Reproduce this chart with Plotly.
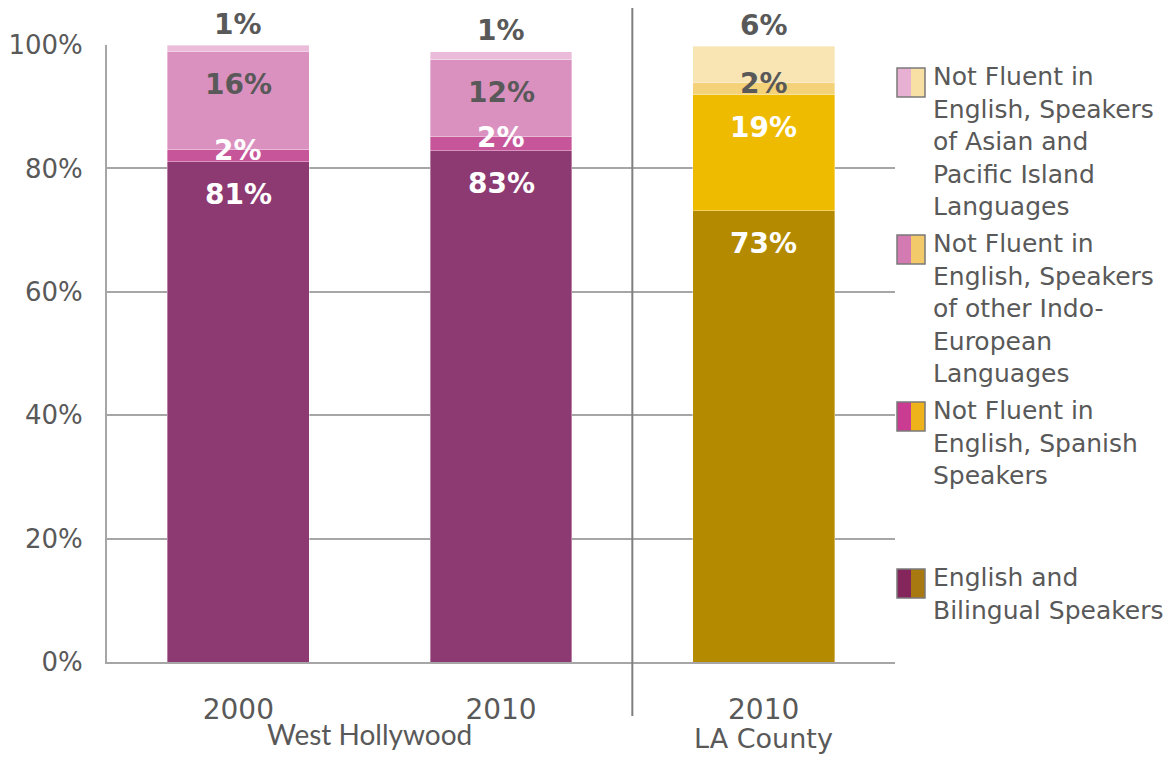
import plotly.graph_objects as go

# ---------------- data ----------------
years = ["2000", "2010", "2010"]
places = ["West Hollywood", "West Hollywood", "LA County"]
english_bilingual = [81.1, 82.9, 73.1]
spanish_not_fluent = [1.9, 2.3, 18.9]
indo_european_not_fluent = [16.0, 12.4, 2.0]
asian_pacific_not_fluent = [1.0, 1.3, 5.8]
y_ticks = [0, 20, 40, 60, 80, 100]

series_values = [english_bilingual, spanish_not_fluent,
                 indo_european_not_fluent, asian_pacific_not_fluent]
series_names = ["English and Bilingual Speakers",
                "Not Fluent in English, Spanish Speakers",
                "Not Fluent in English, Speakers of other Indo-European Languages",
                "Not Fluent in English, Speakers of Asian and Pacific Island Languages"]
legend_lines = [
    ["English and", "Bilingual Speakers"],
    ["Not Fluent in", "English, Spanish", "Speakers"],
    ["Not Fluent in", "English, Speakers", "of other Indo-", "European", "Languages"],
    ["Not Fluent in", "English, Speakers", "of Asian and", "Pacific Island", "Languages"],
]

# ---------------- style ----------------
WH_COLORS = ["#8E3A72", "#C6559A", "#DB91BF", "#EBBCD9"]
LA_COLORS = ["#B38A00", "#EEBB00", "#F3D27A", "#F8E5B3"]
SW_LEFT = ["#84265C", "#C93C92", "#D47AB3", "#E8B1D3"]
SW_RIGHT = ["#A77910", "#EEB31B", "#F2CA69", "#F8DFA3"]
GRAY_TXT = "#595959"
GRID = "#A6A6A6"
FONT = "DejaVu Sans"

BODY = 8                      # default page margin around the figure
W, H = 1167, 754
ML, MR, MT, MB = 99, 280, 37, 100
PW, PH = W - ML - MR, H - MT - MB


def px_x(px):                 # screen px -> paper x
    return (px - BODY - ML) / PW


def px_y(py):                 # screen px -> paper y
    return (BODY + H - MB - py) / PH


xpos = list(range(len(years)))

fig = go.Figure()
for i, (vals, name) in enumerate(zip(series_values, series_names)):
    colors = [WH_COLORS[i] if p == "West Hollywood" else LA_COLORS[i] for p in places]
    fig.add_trace(go.Bar(
        x=xpos, y=vals, name=name,
        marker=dict(color=colors, line=dict(width=0.8, color="rgba(255,255,255,0.45)")),
        showlegend=False, hoverinfo="skip"))

annotations = []
# segment labels
n_series = len(series_values)
for j in range(len(years)):
    cum = 0
    for i in range(n_series):
        v = series_values[i][j]
        cum += v
        if i == n_series - 1:
            shift = 21
        elif v >= 5:
            shift = -33
        else:
            shift = -1
        color = "white" if i < 2 else GRAY_TXT
        annotations.append(dict(
            x=xpos[j], y=cum, xref="x", yref="y", text=f"<b>{round(v)}%</b>",
            showarrow=False, yanchor="middle", yshift=shift, borderpad=0,
            font=dict(family=FONT, size=28, color=color)))

# group labels
groups = []
for p in places:
    if p not in groups:
        groups.append(p)
for g in groups:
    idx = [xpos[k] for k, p in enumerate(places) if p == g]
    if g == "West Hollywood":
        f = dict(family="Lato", size=28, color=GRAY_TXT)
        yc = 734
    else:
        f = dict(family=FONT, size=27, color=GRAY_TXT)
        yc = 738
    annotations.append(dict(
        x=sum(idx) / len(idx), y=px_y(yc), xref="x", yref="paper", text=g,
        showarrow=False, yanchor="middle", xanchor="center", font=f))

# legend (top to bottom: reversed series order)
shapes = []
first_center = 77
item_step = 167
for k, i in enumerate(reversed(range(n_series))):
    cy = first_center + k * item_step
    annotations.append(dict(
        x=px_x(931), y=px_y(cy - 17), xref="paper", yref="paper",
        text="<br>".join(legend_lines[i]), showarrow=False,
        xanchor="left", yanchor="top", align="left",
        font=dict(family=FONT, size=25, color=GRAY_TXT)))
    y0, y1 = px_y(cy + 20), px_y(cy - 9)
    shapes.append(dict(type="rect", xref="paper", yref="paper",
                       x0=px_x(897), x1=px_x(911), y0=y0, y1=y1,
                       fillcolor=SW_LEFT[i], line=dict(width=0)))
    shapes.append(dict(type="rect", xref="paper", yref="paper",
                       x0=px_x(911), x1=px_x(925), y0=y0, y1=y1,
                       fillcolor=SW_RIGHT[i], line=dict(width=0)))
    shapes.append(dict(type="rect", xref="paper", yref="paper",
                       x0=px_x(897), x1=px_x(925), y0=y0, y1=y1,
                       fillcolor="rgba(0,0,0,0)", line=dict(width=1.5, color="#7A7A7A")))

# separator between West Hollywood and LA County
sep_x = (xpos[1] + xpos[2]) / 2
shapes.append(dict(type="line", xref="x", yref="paper", x0=sep_x, x1=sep_x,
                   y0=px_y(716), y1=px_y(5), line=dict(color="#7F7F7F", width=2)))

fig.update_layout(
    width=W, height=H, barmode="stack", bargap=0.46,
    margin=dict(l=ML, r=MR, t=MT, b=MB, autoexpand=False),
    paper_bgcolor="white", plot_bgcolor="white",
    annotations=annotations, shapes=shapes,
    xaxis=dict(range=[-0.5, len(years) - 0.5], tickvals=xpos, ticktext=years,
               showgrid=False, zeroline=False, showline=True, linecolor=GRID, linewidth=2,
               ticks="outside", ticklen=0, ticklabelstandoff=21, automargin=False,
               tickfont=dict(family=FONT, size=28, color=GRAY_TXT)),
    yaxis=dict(range=[0, 100], tickvals=y_ticks, ticktext=[f"{v}%" for v in y_ticks],
               showgrid=True, gridcolor=GRID, gridwidth=2, zeroline=False,
               showline=True, linecolor=GRID, linewidth=2,
               ticks="outside", ticklen=0, ticklabelstandoff=17, automargin=False,
               tickfont=dict(family=FONT, size=26, color=GRAY_TXT)),
)

fig.write_html("out.html")
